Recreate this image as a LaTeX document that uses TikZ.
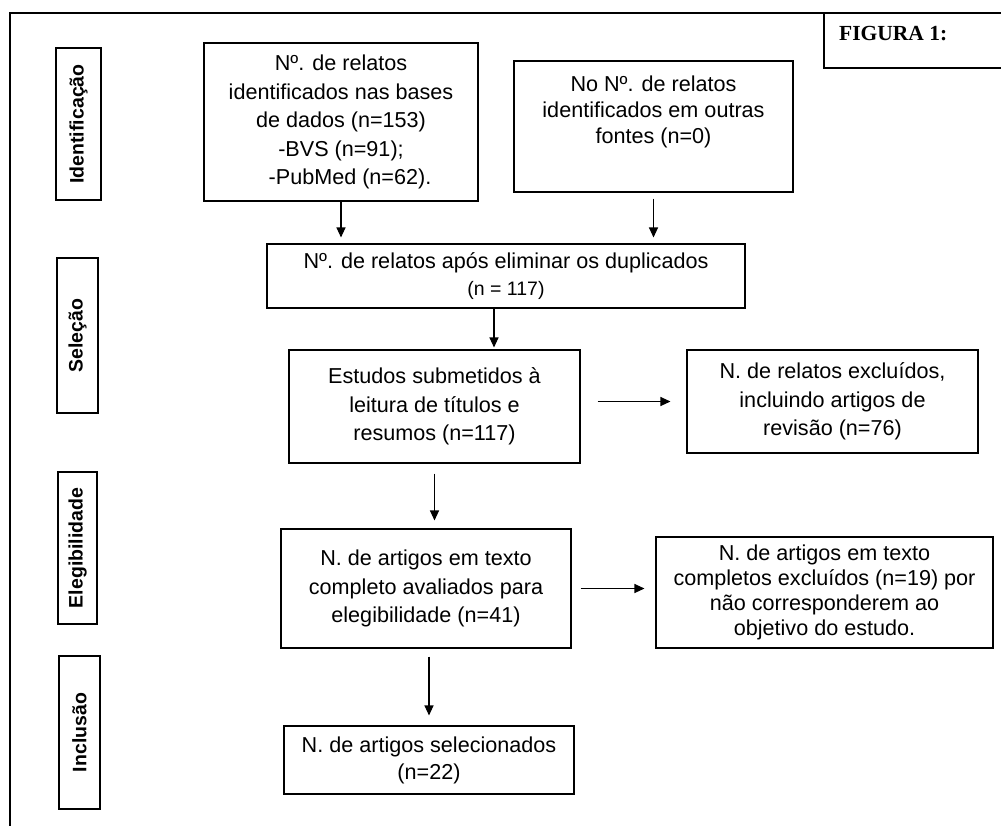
\documentclass[tikz,border=0pt]{standalone}
\usepackage{fontspec}
\setmainfont{Liberation Sans}
\newfontfamily\serifcap{Liberation Serif}
\usetikzlibrary{arrows.meta}

\begin{document}
\begin{tikzpicture}[
    x=1pt, y=-1pt,
    flowbox/.style={rectangle, draw, line width=1.1pt, align=center, inner sep=0pt, font=\fontsize{21.6}{28.5}\selectfont},
    phase/.style={rectangle, draw, line width=1.1pt, rotate=90, inner sep=0pt, font=\fontsize{19.5}{22}\selectfont\bfseries},
    flow/.style={-{Triangle[length=10pt,width=9pt]}, line width=1.1pt}
]
\useasboundingbox (0,0) rectangle (1001,825);

% Outer frame and caption box
\draw[line width=1.5pt] (1004,13) -- (10,13) -- (10,828);
\draw[line width=1.2pt] (1004,13) -| (824,68) -- (1004,68);
\node[font=\serifcap\bfseries\fontsize{21.5}{24}\selectfont, anchor=base west, inner sep=0pt] (figtitle) at (839,40) {FIGURA 1:};

% Phase labels
\node[phase, minimum width=152pt, minimum height=45pt] (ident) at (78.5,124) {Identificação};
\node[phase, minimum width=155pt, minimum height=41pt] (selec) at (77.5,335.5) {Seleção};
\node[phase, minimum width=152pt, minimum height=39pt] (eleg) at (77.5,548) {Elegibilidade};
\node[phase, minimum width=153pt, minimum height=41pt] (incl) at (79.5,732.5) {Inclusão};

% Identification
\node[flowbox, minimum width=274pt, minimum height=158pt] (bases) at (341,122) {Nº. de relatos\\identificados nas bases\\de dados (n=153)\\-BVS (n=91);\\\hspace*{18pt}-PubMed (n=62).};
\node[flowbox, minimum width=279pt, minimum height=131pt, font=\fontsize{21.6}{26}\selectfont] (outras) at (653.5,126.5) {No Nº. de relatos\\identificados em outras\\fontes (n=0)\\\strut};

% Screening
\node[flowbox, minimum width=478pt, minimum height=64pt, font=\fontsize{21.6}{27}\selectfont] (dup) at (506,276) {Nº. de relatos após eliminar os duplicados\\{\fontsize{19.5}{27}\selectfont (n = 117)}};
\node[flowbox, minimum width=291pt, minimum height=113pt] (scr) at (434.5,406.5) {Estudos submetidos à\\leitura de títulos e\\resumos (n=117)};
\node[flowbox, minimum width=291pt, minimum height=103pt] (excl) at (832.5,401.5) {N. de relatos excluídos,\\incluindo artigos de\\revisão (n=76)};

% Eligibility
\node[flowbox, minimum width=290pt, minimum height=119pt] (full) at (426,588.5) {N. de artigos em texto\\completo avaliados para\\elegibilidade (n=41)};
\node[flowbox, minimum width=337pt, minimum height=111pt, font=\fontsize{21.6}{25}\selectfont] (fexcl) at (824.5,592.5) {N. de artigos em texto\\completos excluídos (n=19) por\\não corresponderem ao\\objetivo do estudo.};

% Inclusion
\node[flowbox, minimum width=290pt, minimum height=68pt, font=\fontsize{21.6}{27}\selectfont] (sel) at (429,760) {N. de artigos selecionados\\(n=22)};

% Connectors
\draw[flow, shorten >=6pt] (bases.south) -- (bases.south |- dup.north);
\draw[flow, shorten <=6pt, shorten >=6pt] (outras.south) -- (outras.south |- dup.north);
\draw[flow, shorten >=2pt] ([xshift=-12pt]dup.south) -- ([xshift=-12pt]dup.south |- scr.north);
\draw[flow, shorten <=17pt, shorten >=16pt] (scr.east |- excl.west) -- (excl.west);
\draw[flow, shorten <=10pt, shorten >=8pt] (scr.south) -- (scr.south |- full.north);
\draw[flow, shorten <=9pt, shorten >=11pt] (full.east) -- (full.east -| fexcl.west);
\draw[flow, shorten <=8pt, shorten >=10pt] (sel.north |- full.south) -- (sel.north);
\end{tikzpicture}
\end{document}
